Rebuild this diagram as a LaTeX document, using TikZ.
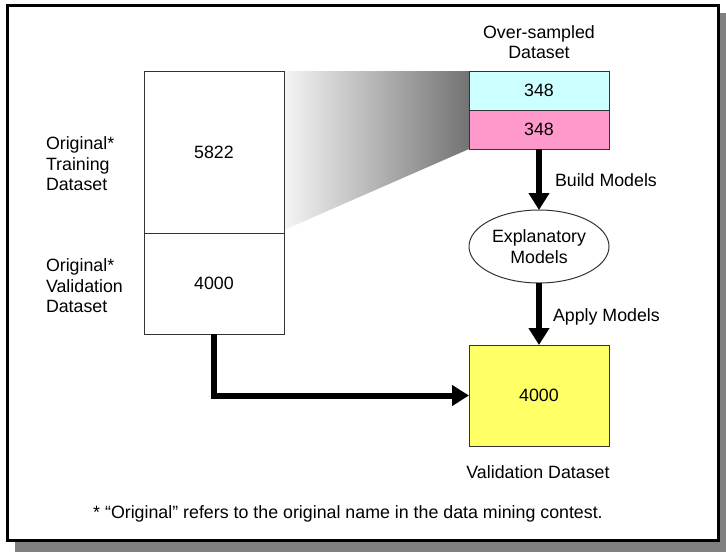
\documentclass[tikz,border=0pt]{standalone}
\usepackage{fontspec}
\setmainfont{Liberation Sans}
\usetikzlibrary{arrows.meta,shapes.geometric}
\begin{document}
\begin{tikzpicture}[x=1pt,y=-1pt,
  every node/.style={inner sep=0pt,outer sep=0pt,font=\fontsize{17.8}{20.5}\selectfont},
  databox/.style={draw=black!80,line width=1pt,minimum width=140pt},
  bigarrow/.style={line width=6pt,-{Triangle[length=17pt,width=20pt]}},
  lbl/.style={align=left,anchor=west}]
\useasboundingbox (0,0) rectangle (726,552);
% shadow and frame
\fill[black!50] (15,13) rectangle (726,552);
\draw[line width=3.5pt,fill=white] (7.5,5.5) rectangle (718.5,540.5);
% zoom wedge
\shade[left color=white!96!black,right color=black!55] (284,71) -- (469,71) -- (469,149) -- (284,230) -- cycle;
% left boxes
\node[databox,minimum height=162pt] (train) at (214,152) {5822};
\node[databox,minimum height=101pt] (valid) at (214,283.5) {4000};
\node[lbl] (trainlbl) at (46,164) {Original*\\Training\\Dataset};
\node[lbl] (validlbl) at (46,286) {Original*\\Validation\\Dataset};
% over-sampled
\node[align=center] (oslbl) at (539,42) {Over-sampled\\Dataset};
\node[databox,fill={rgb,255:red,204;green,255;blue,255},minimum height=39pt] (os1) at (539,90.5) {348};
\node[databox,fill={rgb,255:red,255;green,153;blue,204},minimum height=39pt] (os2) at (539,129.5) {348};
% explanatory models
\node[draw=black!80,line width=1pt,ellipse,minimum width=140pt,minimum height=73pt,align=center] (expl) at (539,246.5) {Explanatory\\Models};
% validation dataset
\node[databox,fill={rgb,255:red,255;green,255;blue,102},minimum height=101pt] (vald) at (539,395.5) {4000};
\node (valdlbl) at (538,472) {Validation Dataset};
% arrows
\draw[bigarrow] (os2.south) -- node[anchor=west,xshift=16pt,yshift=-1pt] (buildlbl) {Build Models} (expl.north);
\draw[bigarrow] (expl.south) -- node[anchor=west,xshift=14pt,yshift=-3pt] (applylbl) {Apply Models} (vald.north);
\draw[bigarrow,line join=miter] (valid.south) |- (vald.west);
% footnote
\node (foot) at (348,514) {* “Original” refers to the original name in the data mining contest.};
\end{tikzpicture}
\end{document}
